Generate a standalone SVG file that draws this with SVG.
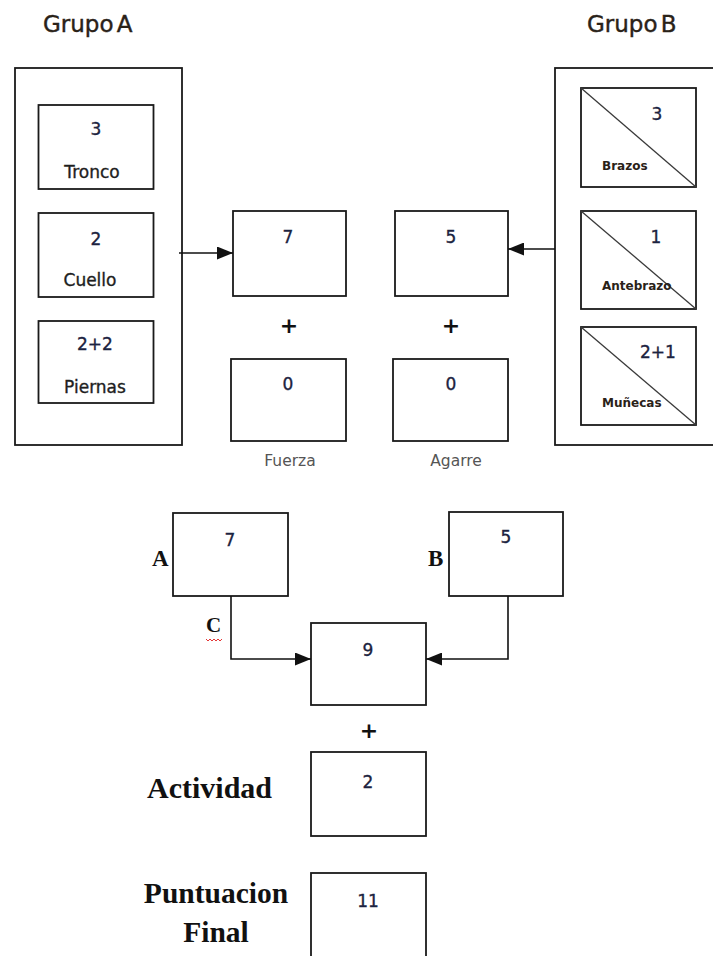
<svg xmlns="http://www.w3.org/2000/svg" width="713" height="956" viewBox="0 0 713 956">
  <defs>
    <marker id="arrow" markerWidth="16" markerHeight="13" refX="16" refY="6.5" orient="auto" markerUnits="userSpaceOnUse">
      <path d="M0,0 L16,6.5 L0,13 Z" fill="#111"/>
    </marker>
    <style>
      .box { fill: #fff; stroke: #1a1a1a; stroke-width: 1.8; }
      .frame { fill: none; stroke: #1a1a1a; stroke-width: 1.8; }
      .diag { stroke: #3a3a3a; stroke-width: 1.3; }
      .conn { fill: none; stroke: #111; stroke-width: 1.6; }
      .title { font-family: "DejaVu Sans", sans-serif; font-size: 23px; fill: #2a2218; stroke: #2a2218; stroke-width: 0.4; word-spacing: -4px; }
      .num { font-family: "DejaVu Sans", sans-serif; font-size: 17px; fill: #1c2340; stroke: #1c2340; stroke-width: 0.35; text-anchor: middle; }
      .lbl { font-family: "DejaVu Sans", sans-serif; font-size: 17px; fill: #1e1e1e; stroke: #1e1e1e; stroke-width: 0.35; text-anchor: middle; }
      .blbl { font-family: "DejaVu Sans", sans-serif; font-size: 12px; font-weight: bold; fill: #2a2218; }
      .cap { font-family: "DejaVu Sans", sans-serif; font-size: 15.5px; fill: #555; text-anchor: middle; }
      .plus { font-family: "DejaVu Sans", sans-serif; font-size: 22px; font-weight: bold; fill: #111; text-anchor: middle; }
      .serif { font-family: "Liberation Serif", serif; font-weight: bold; fill: #111; }
    </style>
  </defs>

  <!-- Group A -->
  <g id="grupo-a">
    <text class="title" x="43" y="32">Grupo A</text>
    <rect class="frame" x="15" y="68" width="167" height="377"/>
    <g id="tronco">
      <rect class="box" x="38.5" y="105" width="115" height="84"/>
      <text class="num" x="96" y="135">3</text>
      <text class="lbl" x="92" y="178">Tronco</text>
    </g>
    <g id="cuello">
      <rect class="box" x="38.5" y="213" width="115" height="84"/>
      <text class="num" x="96" y="245">2</text>
      <text class="lbl" x="90" y="286">Cuello</text>
    </g>
    <g id="piernas">
      <rect class="box" x="38.5" y="321" width="115" height="82"/>
      <text class="num" x="95" y="350">2+2</text>
      <text class="lbl" x="95" y="393">Piernas</text>
    </g>
  </g>

  <!-- Group B -->
  <g id="grupo-b">
    <text class="title" x="587" y="32">Grupo B</text>
    <rect class="frame" x="555" y="68" width="175" height="377"/>
    <g id="brazos">
      <rect class="box" x="581" y="88" width="115" height="99"/>
      <line class="diag" x1="581" y1="88" x2="696" y2="187"/>
      <text class="num" x="657" y="120">3</text>
      <text class="blbl" x="602" y="170">Brazos</text>
    </g>
    <g id="antebrazo">
      <rect class="box" x="581" y="211" width="115" height="98"/>
      <line class="diag" x1="581" y1="211" x2="696" y2="309"/>
      <text class="num" x="656" y="243">1</text>
      <text class="blbl" x="602" y="290">Antebrazo</text>
    </g>
    <g id="munecas">
      <rect class="box" x="581" y="327" width="115" height="98"/>
      <line class="diag" x1="581" y1="327" x2="696" y2="425"/>
      <text class="num" x="658" y="358">2+1</text>
      <text class="blbl" x="602" y="407">Muñecas</text>
    </g>
  </g>

  <!-- Intermediate scores -->
  <g id="total-a">
    <rect class="box" x="233" y="211" width="113" height="85"/>
    <text class="num" x="288" y="243">7</text>
  </g>
  <g id="total-b">
    <rect class="box" x="395" y="211" width="113" height="85"/>
    <text class="num" x="451" y="243">5</text>
  </g>
  <text class="plus" x="289" y="333">+</text>
  <text class="plus" x="451" y="333">+</text>
  <g id="fuerza">
    <rect class="box" x="231" y="359" width="115" height="82"/>
    <text class="num" x="288" y="390">0</text>
    <text class="cap" x="290" y="466">Fuerza</text>
  </g>
  <g id="agarre">
    <rect class="box" x="393" y="359" width="115" height="82"/>
    <text class="num" x="451" y="390">0</text>
    <text class="cap" x="456" y="466">Agarre</text>
  </g>

  <!-- Combined table -->
  <g id="puntuacion-a">
    <rect class="box" x="173" y="513" width="115" height="83"/>
    <text class="num" x="230" y="546">7</text>
    <text class="serif" x="152" y="566" font-size="23">A</text>
  </g>
  <g id="puntuacion-b">
    <rect class="box" x="449" y="512" width="114" height="84"/>
    <text class="num" x="506" y="543">5</text>
    <text class="serif" x="428" y="566" font-size="23">B</text>
  </g>
  <g id="puntuacion-c">
    <rect class="box" x="311" y="623" width="115" height="82"/>
    <text class="num" x="368" y="656">9</text>
  </g>
  <g id="etiqueta-c">
    <text class="serif" x="206" y="632" font-size="21">C</text>
    <path d="M206,639 l2,2 l2,-2 l2,2 l2,-2 l2,2 l2,-2 l2,2 l2,-2" fill="none" stroke="#e02020" stroke-width="0.9"/>
  </g>
  <text class="plus" x="369" y="738">+</text>
  <g id="actividad">
    <rect class="box" x="311" y="752" width="115" height="84"/>
    <text class="num" x="368" y="788">2</text>
    <text class="serif" x="147" y="798" font-size="30">Actividad</text>
  </g>
  <g id="puntuacion-final">
    <rect class="box" x="311" y="873" width="115" height="100"/>
    <text class="num" x="368" y="907">11</text>
    <text class="serif" x="216" y="903" font-size="29.5" text-anchor="middle">Puntuacion</text>
    <text class="serif" x="216" y="942" font-size="29.5" text-anchor="middle">Final</text>
  </g>

  <!-- Connectors -->
  <g id="connectors">
    <line class="conn" x1="179" y1="253" x2="233" y2="253" marker-end="url(#arrow)"/>
    <line class="conn" x1="555" y1="249" x2="508" y2="249" marker-end="url(#arrow)"/>
    <polyline class="conn" points="231,596 231,659 311,659" marker-end="url(#arrow)"/>
    <polyline class="conn" points="508,596 508,659 426,659" marker-end="url(#arrow)"/>
  </g>
</svg>
